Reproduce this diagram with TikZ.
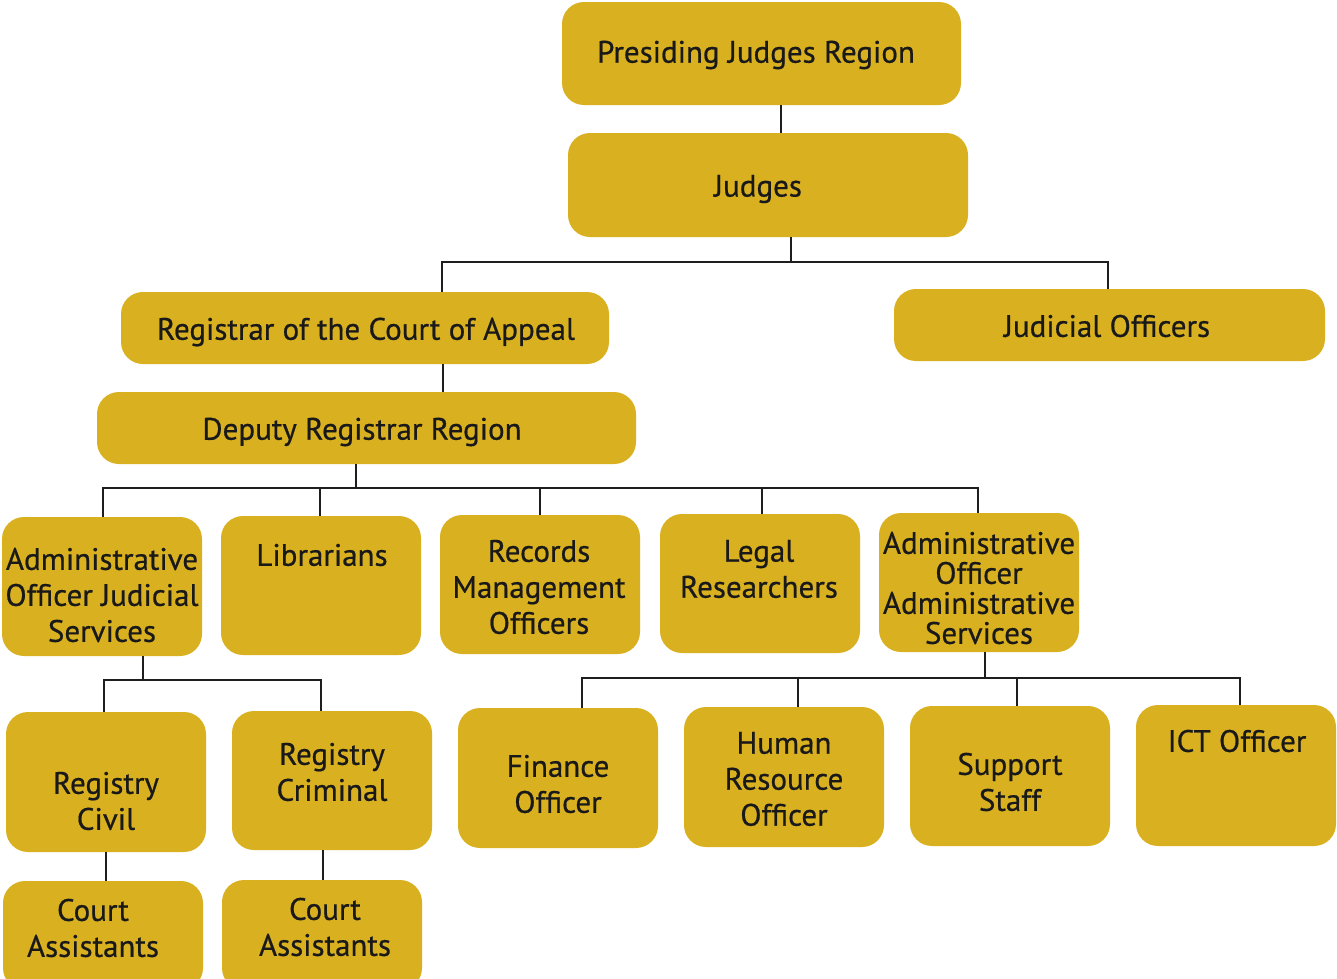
\documentclass[tikz,border=0pt]{standalone}
\usepackage{fontspec}
\setmainfont{PT Sans}[BoldFont={PT Sans}, BoldFeatures={FakeBold=0.6}]
\definecolor{gold}{RGB}{217,176,32}
\definecolor{ink}{RGB}{30,30,30}
\tikzset{
  box/.style={fill=gold, draw=none, rounded corners=22pt, inner sep=0pt},
  txt/.style={font=\fontsize{31}{36}\selectfont\bfseries, text=black!90, align=center, inner sep=0pt, yshift=-2pt},
  conn/.style={draw=ink, line width=2.7pt},
}
\newcommand{\ob}[5]{\node[box, minimum width={(#4-#2)*1pt}, minimum height={(#5-#3)*1pt}] (#1) at ({(#2+#4)/2},{(#3+#5)/2}) {};}
\begin{document}
\begin{tikzpicture}[x=1pt,y=-1pt]
\useasboundingbox (0,0) rectangle (1337,978);
\clip (0,0) rectangle (1337,978);
% boxes
\ob{pjr}{562}{2}{961}{105}
\ob{jud}{568}{133}{968}{237}
\ob{reg}{121}{292}{609}{364}
\ob{jo}{894}{289}{1325}{361}
\ob{drr}{97}{392}{636}{464}
\ob{aoj}{2}{517}{202}{656}
\ob{lib}{221}{516}{421}{655}
\ob{rmo}{440}{515}{640}{654}
\ob{lr}{660}{514}{860}{653}
\ob{aoa}{879}{513}{1079}{652}
\ob{rc}{6}{712}{206}{852}
\ob{rcr}{232}{711}{432}{850}
\ob{ca1}{3}{881}{203}{990}
\ob{ca2}{222}{880}{422}{990}
\ob{fo}{458}{708}{658}{848}
\ob{hr}{684}{707}{884}{847}
\ob{ss}{910}{706}{1110}{846}
\ob{ict}{1136}{705}{1336}{846}
% texts
\node[txt] (pjrt) at (756,53) {Presiding Judges Region};
\node[txt] (judt) at (758,187) {Judges};
\node[txt] (regt) at (366,330) {Registrar of the Court of Appeal};
\node[txt] (jot) at (1107,324) {Judicial Officers};
\node[txt] (drrt) at (362,430) {Deputy Registrar Region};
\node[txt] (aojt) at (102,593) {Administrative\\Officer Judicial\\Services};
\node[txt] (libt) at (322,553) {Librarians};
\node[txt] (rmot) at (539,585) {Records\\Management\\Officers};
\node[txt] (lrt) at (759,567) {Legal\\Researchers};
\node[txt, font=\fontsize{31}{30}\selectfont\bfseries] (aoat) at (979,586) {Administrative\\Officer\\Administrative\\Services};
\node[txt] (rct) at (106,799) {Registry\\Civil};
\node[txt] (rcrt) at (332,770) {Registry\\Criminal};
\node[txt] (ca1t) at (93,926) {Court\\Assistants};
\node[txt] (ca2t) at (325,925) {Court\\Assistants};
\node[txt] (fot) at (558,782) {Finance\\Officer};
\node[txt] (hrt) at (784,777) {Human\\Resource\\Officer};
\node[txt] (sst) at (1010,780) {Support\\Staff};
\node[txt] (ictt) at (1237,739) {ICT Officer};
% connector coordinates
\coordinate (c1) at (781,0);
\coordinate (b1L) at (442,262);
\coordinate (b1m) at (791,262);
\coordinate (b1R) at (1108,262);
\coordinate (c2) at (443,0);
\coordinate (b2m) at (356,488);
\coordinate (b2a) at (103,488);
\coordinate (b2b) at (320,488);
\coordinate (b2c) at (540,488);
\coordinate (b2d) at (762,488);
\coordinate (b2e) at (978,488);
\coordinate (b3m) at (143,680);
\coordinate (b3a) at (104,680);
\coordinate (b3b) at (321,680);
\coordinate (c3) at (106,0);
\coordinate (c4) at (323,0);
\coordinate (b4m) at (985,678);
\coordinate (b4a) at (582,678);
\coordinate (b4b) at (798,678);
\coordinate (b4c) at (1017,678);
\coordinate (b4d) at (1240,678);
% connectors
\draw[conn] (pjr.south -| c1) -- (jud.north -| c1);
\draw[conn] (jud.south -| b1m) -- (b1m);
\draw[conn] (reg.north -| b1L) -- (b1L) -- (b1R) -- (jo.north -| b1R);
\draw[conn] (reg.south -| c2) -- (drr.north -| c2);
\draw[conn] (drr.south -| b2m) -- (b2m);
\draw[conn] (aoj.north -| b2a) -- (b2a) -- (b2e) -- (aoa.north -| b2e);
\draw[conn] (b2b) -- (lib.north -| b2b);
\draw[conn] (b2c) -- (rmo.north -| b2c);
\draw[conn] (b2d) -- (lr.north -| b2d);
\draw[conn] (aoj.south -| b3m) -- (b3m);
\draw[conn] (rc.north -| b3a) -- (b3a) -- (b3b) -- (rcr.north -| b3b);
\draw[conn] (rc.south -| c3) -- (ca1.north -| c3);
\draw[conn] (rcr.south -| c4) -- (ca2.north -| c4);
\draw[conn] (aoa.south -| b4m) -- (b4m);
\draw[conn] (fo.north -| b4a) -- (b4a) -- (b4d) -- (ict.north -| b4d);
\draw[conn] (b4b) -- (hr.north -| b4b);
\draw[conn] (b4c) -- (ss.north -| b4c);
\end{tikzpicture}
\end{document}
